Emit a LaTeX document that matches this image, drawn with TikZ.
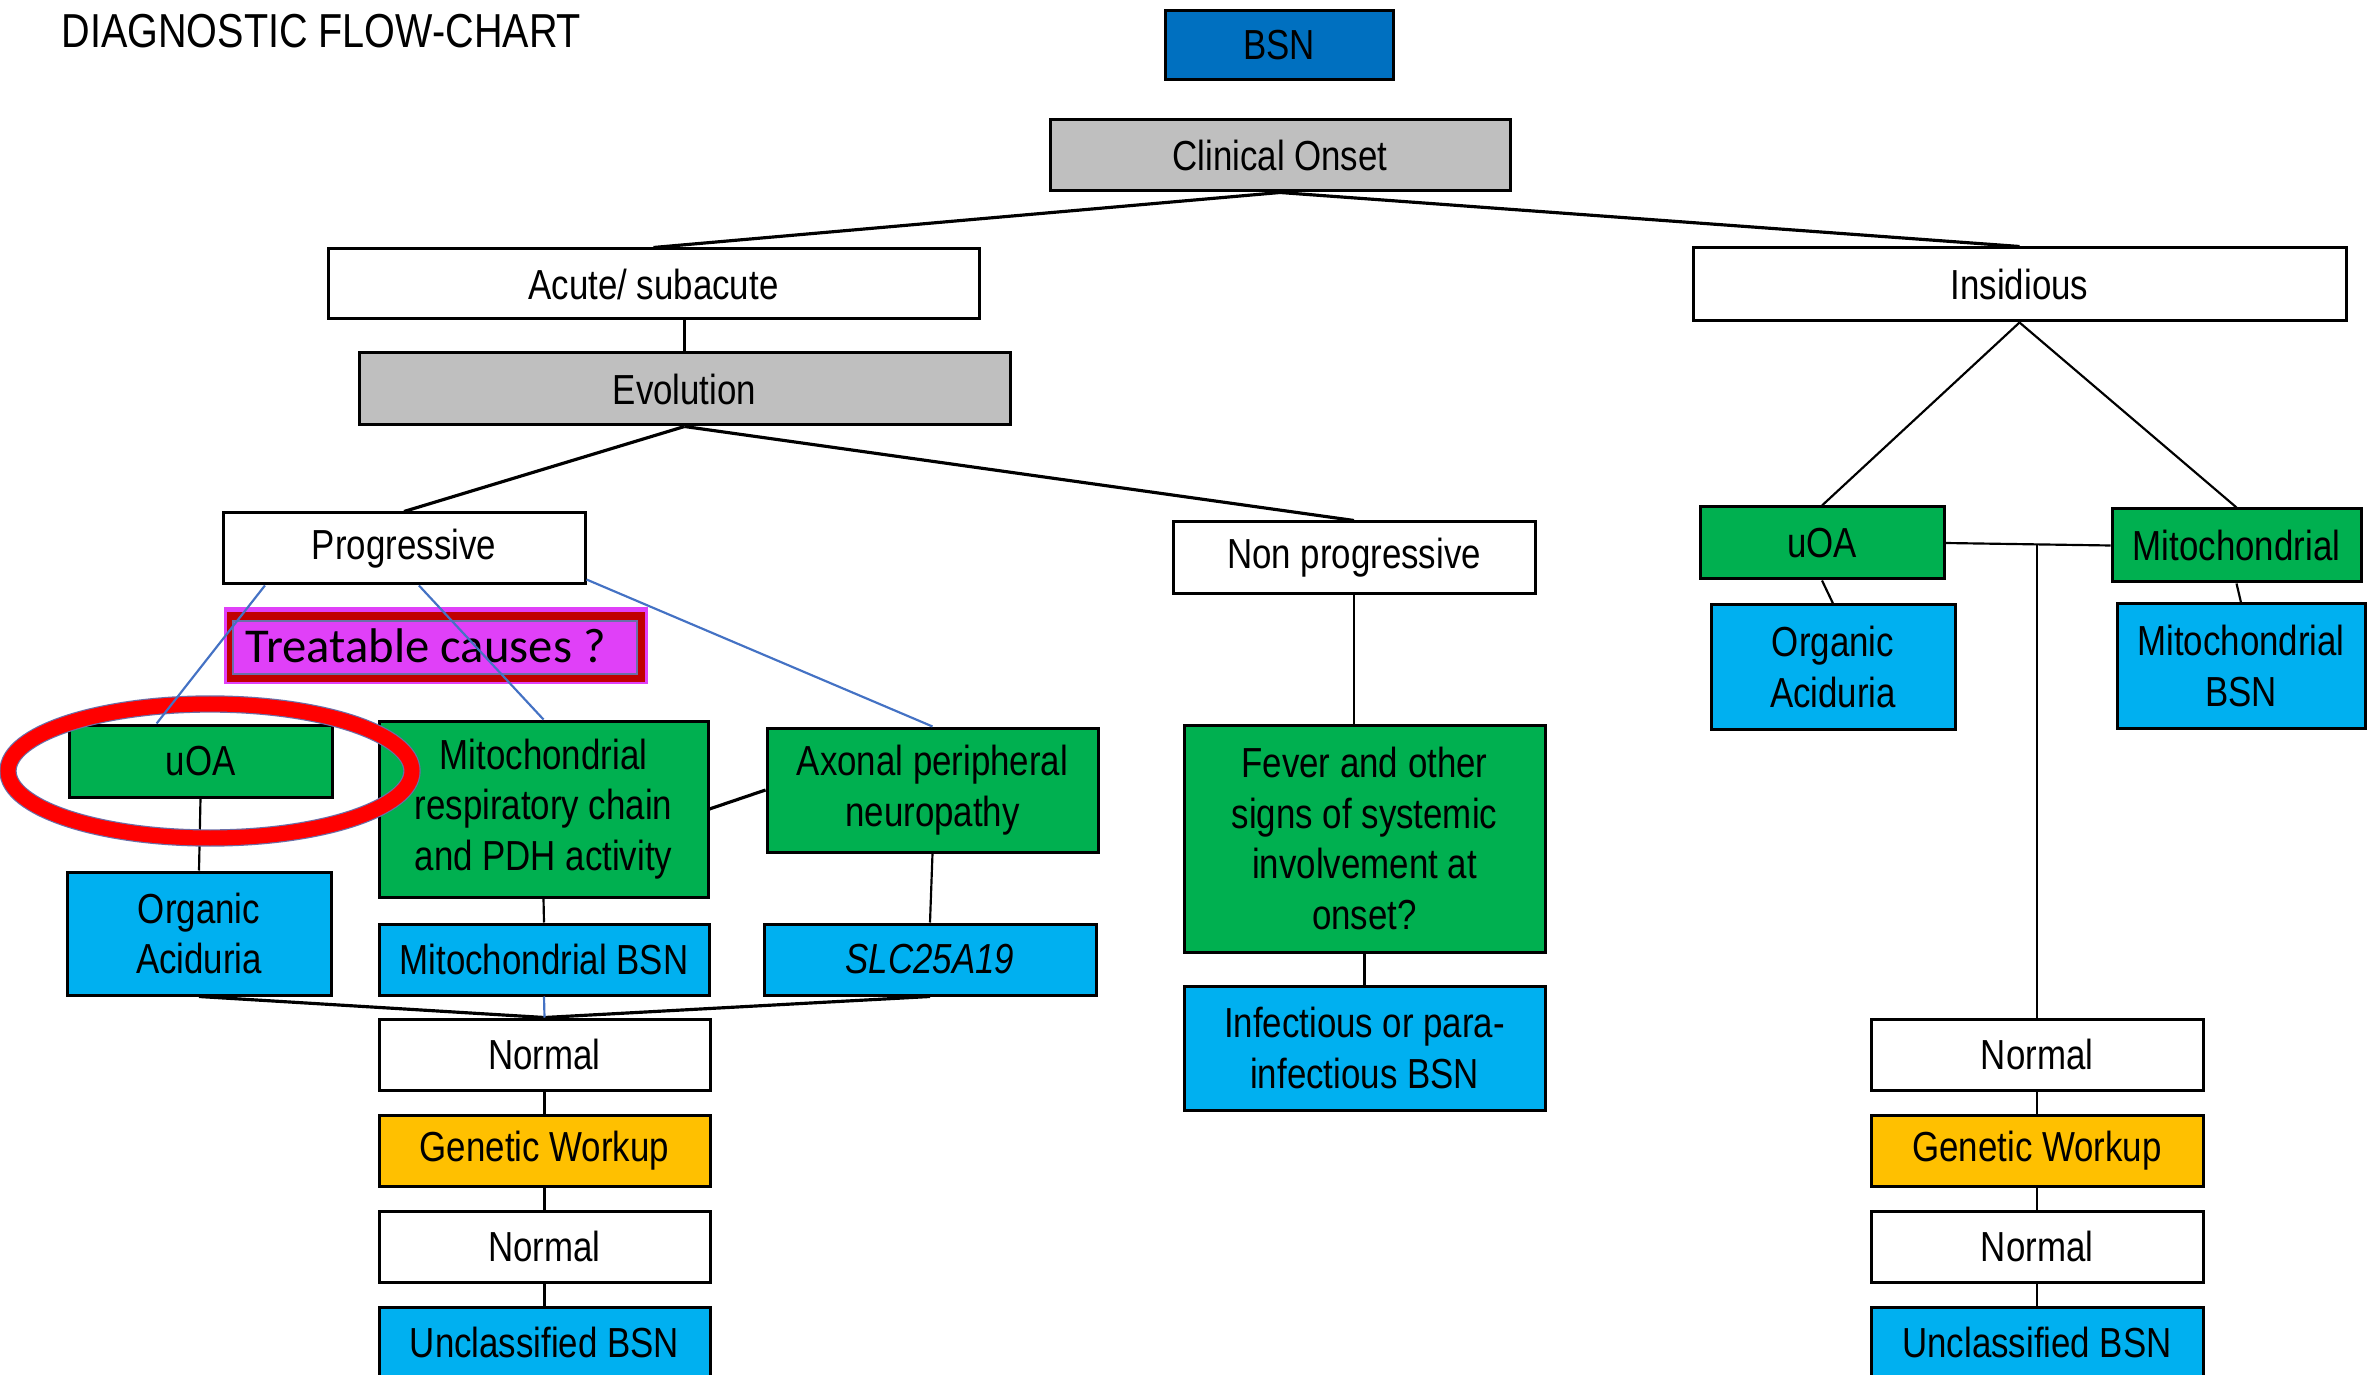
\documentclass[tikz,border=0pt]{standalone}
\usepackage{fontspec}
\setmainfont{Liberation Sans}[FakeStretch=0.83]
\newfontfamily\calib{Carlito}
\usetikzlibrary{calc}
\definecolor{bsnblue}{HTML}{0070C0}
\definecolor{boxgray}{HTML}{BFBFBF}
\definecolor{boxgreen}{HTML}{00B050}
\definecolor{boxcyan}{HTML}{00B0F0}
\definecolor{boxorange}{HTML}{FFC000}
\definecolor{boxmagenta}{HTML}{E040F8}
\definecolor{bandred}{HTML}{C00000}
\definecolor{ringred}{HTML}{FF0000}
\definecolor{linkblue}{HTML}{4472C4}
\definecolor{ringedge}{HTML}{6A6FA8}
\begin{document}
\begin{tikzpicture}[x=0.3pt,y=-0.3pt,
  box/.style={draw=black, line width=0.9pt, inner sep=0pt, align=center,
    font=\fontsize{12.6}{15.2}\selectfont},
  wh/.style 2 args={minimum width=#1*0.3pt, minimum height=#2*0.3pt},
  white/.style={box, fill=white},
  grey/.style={box, fill=boxgray},
  green/.style={box, fill=boxgreen},
  cyan/.style={box, fill=boxcyan},
  orange/.style={box, fill=boxorange},
  link/.style={line width=0.65pt},
  heavy/.style={line width=0.95pt},
  bluelink/.style={line width=0.65pt, draw=linkblue}]
\useasboundingbox (0,0) rectangle (2379,1375);

% title
\node[anchor=base west, inner sep=0pt, font=\fontsize{14.3}{17}\selectfont] (title) at (61,48) {DIAGNOSTIC FLOW-CHART};

% top of the tree
\node[box, fill=bsnblue, wh={228}{69}] (bsn) at (1279,45.5) {BSN};
\node[grey, wh={460}{71}] (onset) at (1280,155.5) {Clinical Onset};
\node[white, wh={651}{70}] (acute) at (653.5,284) {Acute/ subacute};
\node[grey, wh={651}{72}] (evol) at (684.5,389) {Evolution};
\node[white, wh={653}{73}] (insid) at (2019.5,284.5) {Insidious};

% progressive branch
\node[white, wh={362}{71}] (prog) at (404,548.5) {Progressive};
\node[green, wh={263}{72}] (uoaL) at (200.5,761) {uOA};
\node[green, wh={329}{176}] (mitoc) at (543.5,809) {Mitochondrial\\respiratory chain\\and PDH activity};
\node[green, wh={331}{124}] (axon) at (932.5,790) {Axonal peripheral\\neuropathy};
\node[cyan, wh={264}{123}] (oaL) at (199,933.5) {Organic\\Aciduria};
\node[cyan, wh={330}{71}] (mbsnL) at (544,959.5) {Mitochondrial BSN};
\node[cyan, wh={332}{71}] (slc) at (930,959.5) {\itshape SLC25A19};
\node[white, wh={331}{71}] (norm1L) at (544.5,1054.5) {Normal};
\node[orange, wh={331}{71}] (genL) at (544.5,1150.5) {Genetic Workup};
\node[white, wh={331}{71}] (norm2L) at (544.5,1246.5) {Normal};
\node[cyan, wh={331}{71}] (unclL) at (544.5,1342.5) {Unclassified BSN};

% non progressive branch
\node[white, wh={362}{72}] (nonprog) at (1354,558) {Non progressive};
\node[green, wh={361}{227}] (fever) at (1364.5,838.5) {Fever and other\\signs of systemic\\involvement at\\onset?};
\node[cyan, wh={361}{124}] (infect) at (1364.5,1048) {Infectious or para-\\infectious BSN};

% insidious branch
\node[green, wh={244}{72}] (uoaR) at (1822,543) {uOA};
\node[green, wh={249}{73}] (mitoR) at (2236.5,545.5) {Mitochondrial};
\node[cyan, wh={244}{124}] (oaR) at (1833,667) {Organic\\Aciduria};
\node[cyan, wh={248}{124}] (mbsnR) at (2241,666) {Mitochondrial\\BSN};
\node[white, wh={332}{71}] (norm1R) at (2037,1054.5) {Normal};
\node[orange, wh={332}{71}] (genR) at (2037,1150.5) {Genetic Workup};
\node[white, wh={332}{71}] (norm2R) at (2037,1246.5) {Normal};
\node[cyan, wh={332}{71}] (unclR) at (2037,1342.5) {Unclassified BSN};

% "Treatable causes ?" banner: magenta rim, red band, framed magenta core
\fill[boxmagenta] (224,607) rectangle (648,684);
\fill[bandred] (227,612) rectangle (645,682);
\filldraw[fill=boxmagenta, draw=ringedge, line width=0.5pt] (233,621) rectangle (637,674);
\node[anchor=base west, inner sep=0pt, font=\calib\fontsize{14.6}{17}\selectfont] (treat) at (245,662) {Treatable causes ?};

% black connectors
\draw[heavy] (onset.south) -- (acute.north);
\draw[heavy] (onset.south) -- (insid.north);
\draw[link] (evol.north) -- (evol.north |- acute.south);
\draw[heavy] (evol.south) -- (prog.north);
\draw[heavy] (evol.south) -- (nonprog.north);
\draw[link] (uoaL.south) -- (oaL.north);
\draw[heavy] (mitoc.east) -- (axon.west);
\draw[link] (mitoc.south) -- (mbsnL.north);
\draw[link] (axon.south) -- (slc.north);
\draw[heavy] (oaL.south) -- (norm1L.north);
\draw[heavy] (slc.south) -- (norm1L.north);
\draw[link] (norm1L) -- (genL);
\draw[link] (genL) -- (norm2L);
\draw[link] (norm2L) -- (unclL);
\draw[link] (nonprog.south) -- (nonprog.south |- fever.north);
\draw[link] (fever.south) -- (infect.north);
\draw[link] (insid.south) -- (uoaR.north);
\draw[link] (insid.south) -- (mitoR.north);
\draw[link] (uoaR.south) -- (oaR.north);
\draw[link] (mitoR.south) -- (mbsnR.north);
\draw[link] (uoaR.east) -- (mitoR.west);
\coordinate (join) at ($(uoaR.east -| norm1R.north)+(0,1.5)$);
\draw[link] (join) -- (norm1R.north);
\draw[link] (norm1R) -- (genR);
\draw[link] (genR) -- (norm2R);
\draw[link] (norm2R) -- (unclR);

% red ring around the left uOA box
\draw[ringedge, line width=5.2pt] (210,771) ellipse [x radius=202, y radius=67];
\draw[ringred, line width=4.5pt] (210,771) ellipse [x radius=202, y radius=67];

% blue connectors
\draw[bluelink] ($(prog.south west)!0.119!(prog.south east)$) -- ($(uoaL.north west)!0.335!(uoaL.north east)$);
\draw[bluelink] ($(prog.south west)!0.541!(prog.south east)$) -- (mitoc.north);
\draw[bluelink] ($(prog.south east)+(0,-6)$) -- (axon.north);
\draw[bluelink] (mbsnL.south) -- (norm1L.north);
\end{tikzpicture}
\end{document}
